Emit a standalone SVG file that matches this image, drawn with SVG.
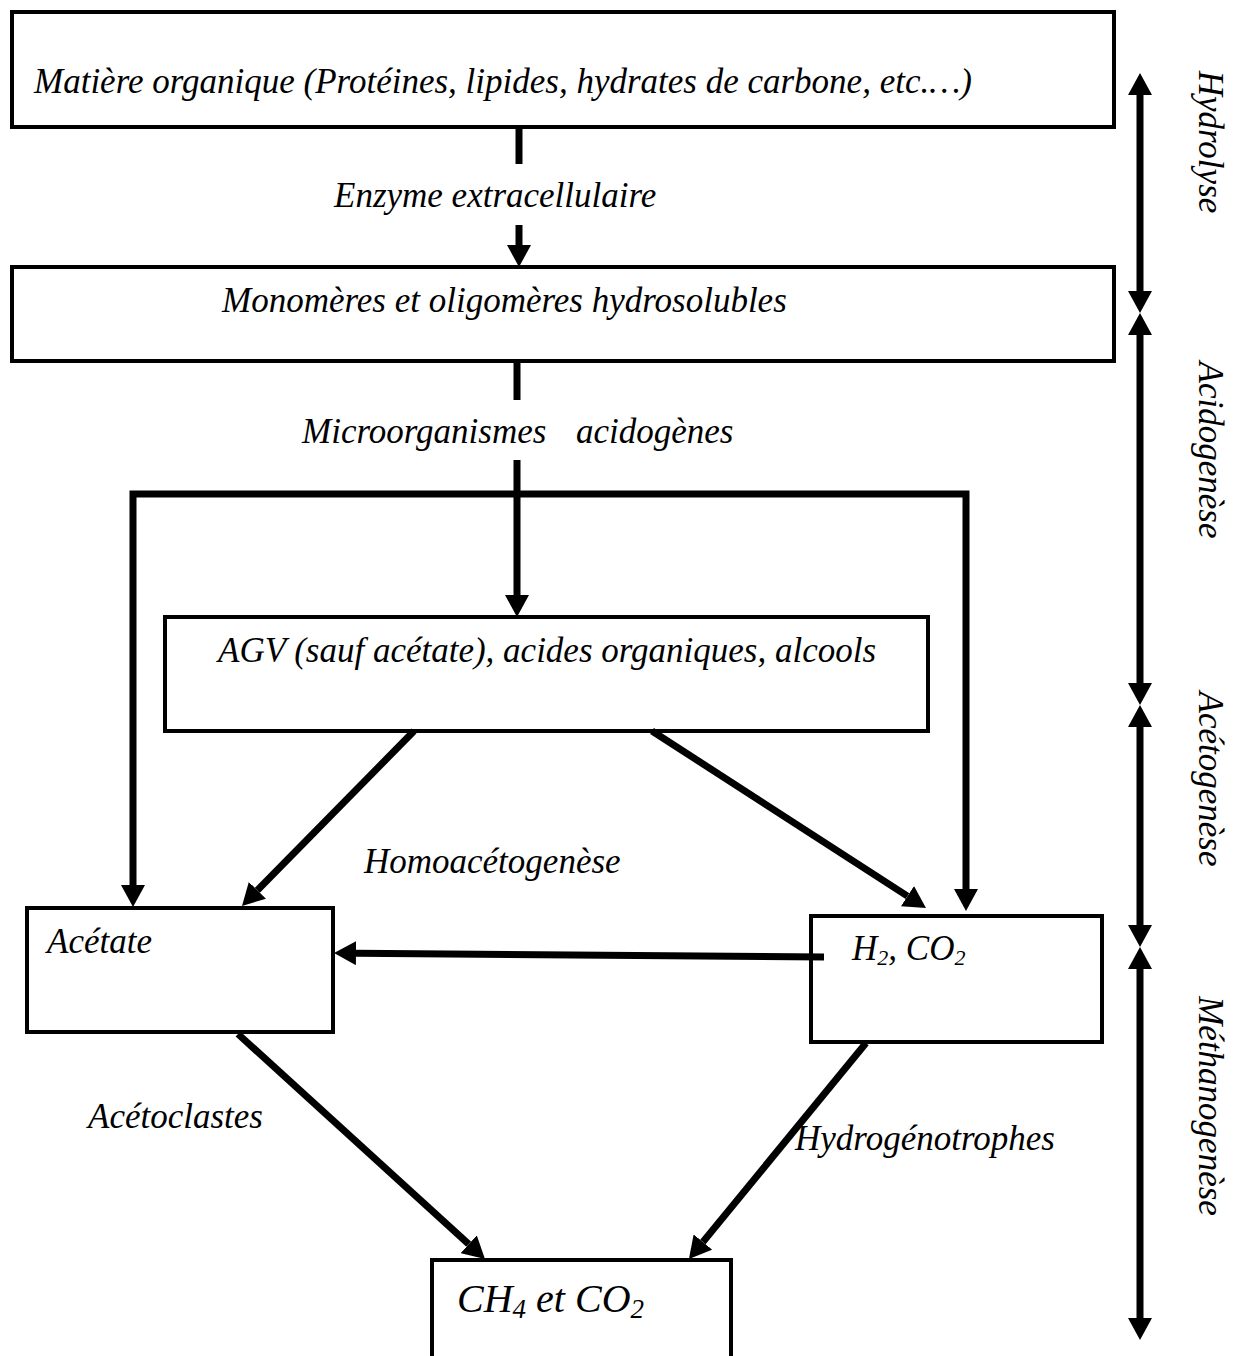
<svg xmlns="http://www.w3.org/2000/svg" width="1248" height="1356" viewBox="0 0 1248 1356">
<style>
text{font-family:"Liberation Serif","Times New Roman",serif;font-style:italic;font-size:35px;fill:#000}
.box{fill:#fff;stroke:#000;stroke-width:4}
.c{fill:none;stroke:#000;stroke-width:7}
.ph{fill:none;stroke:#000;stroke-width:7}
.sub{font-size:22px}
.big{font-size:40px}
.bsub{font-size:27px}
</style>
<defs>
<marker id="ah" markerUnits="userSpaceOnUse" viewBox="0 0 22 24" refX="0" refY="12" markerWidth="22" markerHeight="24" orient="auto-start-reverse">
<path d="M0,0 L22,12 L0,24 z" fill="#000"/>
</marker>
</defs>
<rect width="1248" height="1356" fill="#fff"/>
<g id="matiere">
<rect class="box" x="12" y="12" width="1102" height="115"/>
<text x="34" y="93">Matière organique (Protéines, lipides, hydrates de carbone, etc.…)</text>
</g>
<g id="monomeres">
<rect class="box" x="12" y="267" width="1102" height="94"/>
<text x="222" y="312">Monomères et oligomères hydrosolubles</text>
</g>
<g id="agv">
<rect class="box" x="165" y="617" width="763" height="114"/>
<text x="218" y="662">AGV (sauf acétate), acides organiques, alcools</text>
</g>
<g id="acetate">
<rect class="box" x="27" y="908" width="306" height="124"/>
<text x="47" y="953">Acétate</text>
</g>
<g id="h2co2">
<rect class="box" x="811" y="916" width="291" height="126"/>
<text x="852" y="960">H<tspan class="sub" dy="5">2</tspan><tspan dy="-5">, CO</tspan><tspan class="sub" dy="5">2</tspan></text>
</g>
<g id="ch4co2">
<rect class="box" x="432" y="1260" width="299" height="120"/>
<text class="big" x="457" y="1312">CH<tspan class="bsub" dy="6">4</tspan><tspan dy="-6"> et CO</tspan><tspan class="bsub" dy="6">2</tspan></text>
</g>
<g id="connectors">
<line class="c" x1="519" y1="127" x2="519" y2="164"/>
<line class="c" x1="519" y1="225" x2="519" y2="245" marker-end="url(#ah)"/>
<line class="c" x1="517" y1="361" x2="517" y2="400"/>
<line class="c" x1="517" y1="460" x2="517" y2="595" marker-end="url(#ah)"/>
<path class="c" d="M133,885 L133,494 L966,494 L966,889" stroke-linejoin="miter" marker-start="url(#ah)" marker-end="url(#ah)"/>
<line class="c" x1="414" y1="731" x2="257.4" y2="890.3" marker-end="url(#ah)"/>
<line class="c" x1="652" y1="731" x2="907.5" y2="896.1" marker-end="url(#ah)"/>
<line class="c" x1="824" y1="957" x2="356" y2="953.2" marker-end="url(#ah)"/>
<line class="c" x1="238" y1="1034" x2="468.7" y2="1244.2" marker-end="url(#ah)"/>
<line class="c" x1="866" y1="1043" x2="702.9" y2="1242" marker-end="url(#ah)"/>
</g>
<g id="labels">
<text x="334" y="207">Enzyme extracellulaire</text>
<text x="302" y="443">Microorganismes<tspan x="576">acidogènes</tspan></text>
<text x="364" y="873">Homoacétogenèse</text>
<text x="88" y="1128">Acétoclastes</text>
<text x="795" y="1150">Hydrogénotrophes</text>
</g>
<g id="phases">
<line class="ph" x1="1140" y1="95" x2="1140" y2="291" marker-start="url(#ah)" marker-end="url(#ah)"/>
<line class="ph" x1="1140" y1="335" x2="1140" y2="683" marker-start="url(#ah)" marker-end="url(#ah)"/>
<line class="ph" x1="1140" y1="727" x2="1140" y2="925" marker-start="url(#ah)" marker-end="url(#ah)"/>
<line class="ph" x1="1140" y1="969" x2="1140" y2="1318" marker-start="url(#ah)" marker-end="url(#ah)"/>
<text transform="translate(1199,142) rotate(90)" text-anchor="middle">Hydrolyse</text>
<text transform="translate(1199,450) rotate(90)" text-anchor="middle">Acidogenèse</text>
<text transform="translate(1199,779) rotate(90)" text-anchor="middle">Acétogenèse</text>
<text transform="translate(1199,1106) rotate(90)" text-anchor="middle">Méthanogenèse</text>
</g>
</svg>
